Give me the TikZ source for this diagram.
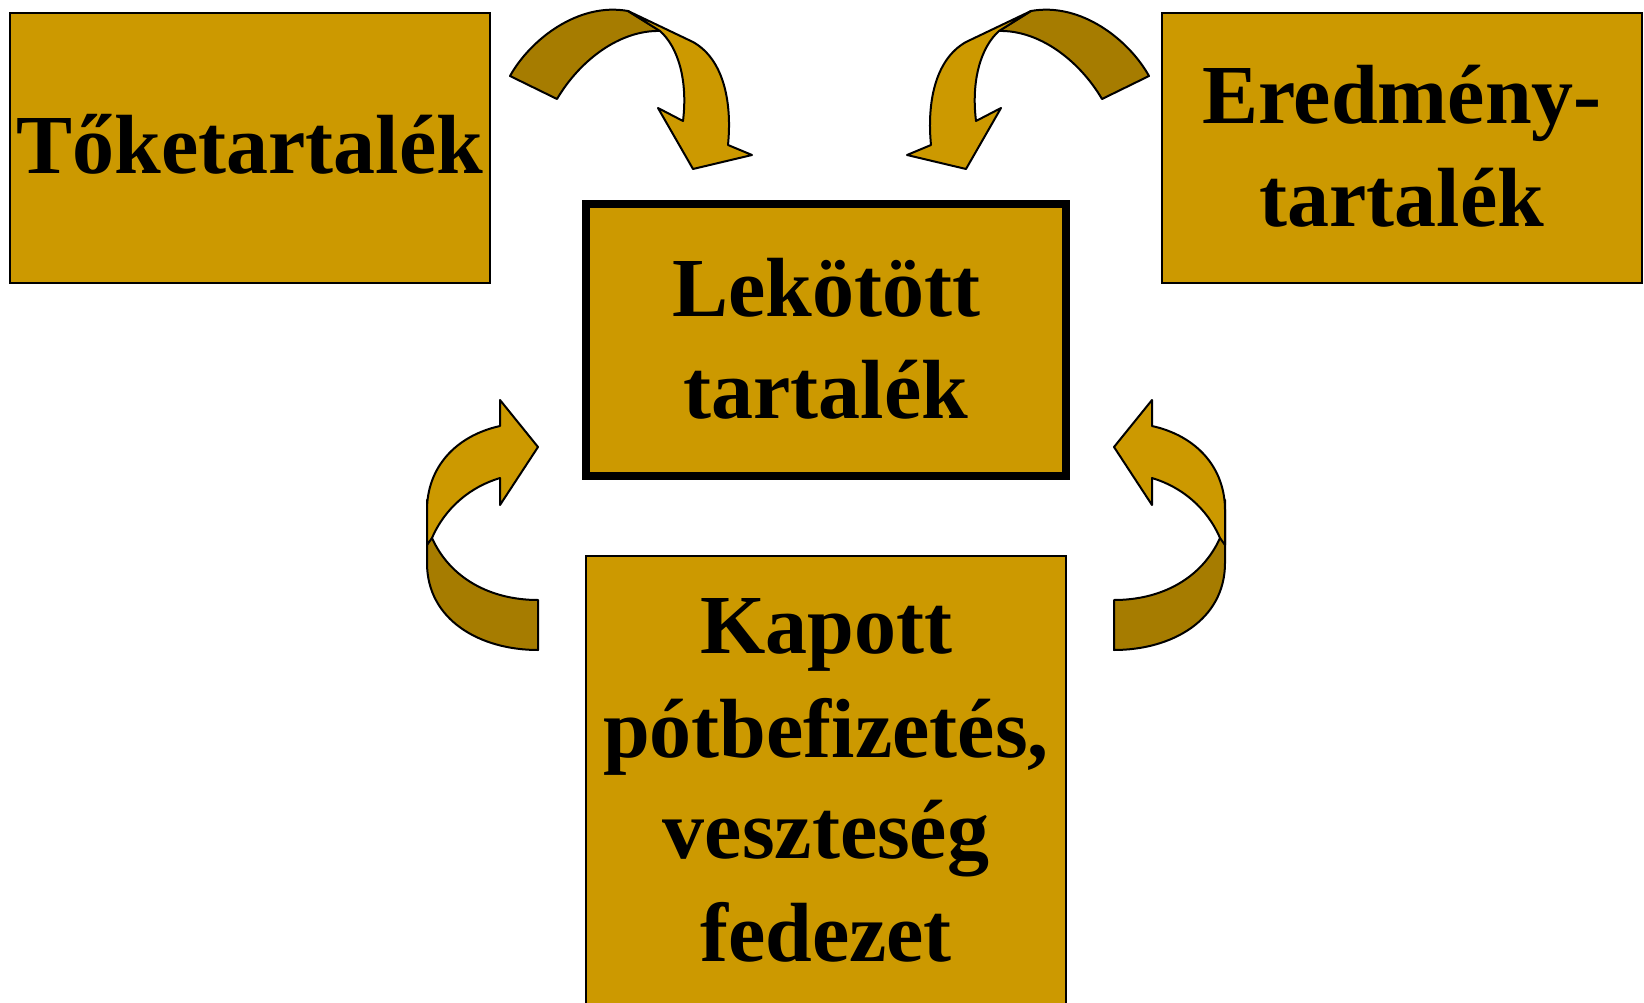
\documentclass[tikz,border=0pt]{standalone}
\usepackage{fontspec}
\setmainfont{Liberation Serif}
\definecolor{gold}{HTML}{CC9900}
\definecolor{darkgold}{HTML}{A67C00}
\newcommand\myTopArrow{%
  \filldraw[darkpart] (510,76) .. controls (530,40) and (578,2) .. (628,11) -- (660,31) .. controls (620,30) and (580,60) .. (557,99) -- cycle;
  \filldraw[lightpart] (628,11) -- (693,42) .. controls (725,60) and (732,105) .. (728,145) -- (752,155) -- (693,169) -- (658,108) -- (683,121) .. controls (688,80) and (678,47) .. (660,31) -- cycle;
}
\newcommand\myBotArrow{%
  \filldraw[darkpart] (427,500) -- (427,563) .. controls (427,620) and (480,650) .. (538,650) -- (538,600) .. controls (490,600) and (450,578) .. (432,538) -- cycle;
  \filldraw[lightpart] (500,426) -- (500,400) -- (538,447) -- (500,505) -- (500,478) .. controls (470,487) and (445,508) .. (432,538) -- (427,545) -- (427,510) .. controls (427,468) and (455,436) .. (500,426) -- cycle;
}
\begin{document}
\begin{tikzpicture}[x=1pt,y=-1pt,
  box/.style={draw=black, fill=gold, line width=2pt, minimum width=480pt, minimum height=270pt, inner sep=0pt},
  mainbox/.style={box, line width=8pt, minimum height=272pt},
  lbl/.style={font=\fontsize{84}{100}\selectfont\bfseries, anchor=base, inner sep=0pt},
  lightpart/.style={fill=gold, draw=black, line width=2pt, line join=round},
  darkpart/.style={fill=darkgold, draw=black, line width=2pt, line join=round}]
\useasboundingbox (0,0) rectangle (1644,1003);
\clip (0,0) rectangle (1644,1003);
\fill[white] (0,0) rectangle (1644,1003);

\node[box] (tk) at (250,148) {};
\node[box] (er) at (1402,148) {};
\node[mainbox] (lk) at (826,340) {};
\node[box, minimum height=470pt] (kp) at (826,791) {};

\myTopArrow
\begin{scope}[cm={-1,0,0,1,(1659pt,0pt)}]
  \myTopArrow
\end{scope}
\myBotArrow
\begin{scope}[cm={-1,0,0,1,(1652pt,0pt)}]
  \myBotArrow
\end{scope}

\node[lbl] (t1) at (250,174) {Tőketartalék};
\node[lbl] (e1) at (1402,124) {Eredmény-};
\node[lbl] (e2) at (1402,226) {tartalék};
\node[lbl] (l1) at (826,316) {Lekötött};
\node[lbl] (l2) at (826,418) {tartalék};
\node[lbl] (k1) at (826,653) {Kapott};
\node[lbl] (k2) at (826,757) {pótbefizetés,};
\node[lbl] (k3) at (826,858) {veszteség};
\node[lbl] (k4) at (826,961) {fedezet};
\end{tikzpicture}
\end{document}
